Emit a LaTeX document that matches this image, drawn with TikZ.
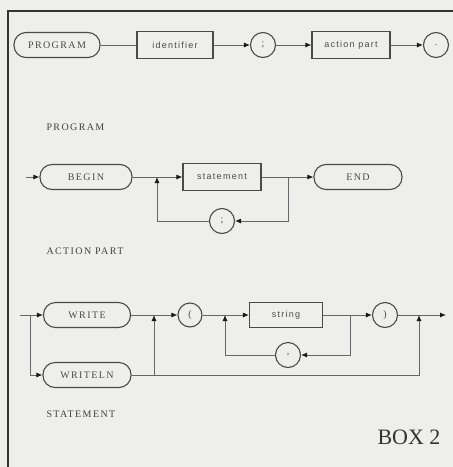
\documentclass[tikz,border=0pt]{standalone}
\usepackage{fontspec}
\setmainfont{Liberation Serif}
\newfontfamily\capsfont[LetterSpace=14]{Liberation Serif}
\newfontfamily\wordfont[LetterSpace=14]{Liberation Sans}
\usepackage{tikz}
\usetikzlibrary{positioning,arrows.meta}
\definecolor{paper}{HTML}{EEEEEC}
\definecolor{ink}{HTML}{4A4A4A}

\begin{document}
\begin{tikzpicture}[x=1pt, y=-1pt, >={Latex[length=6pt,width=5pt,color=black!90]},
    oval/.style={draw=ink, line width=1.1pt, rounded corners=12pt, minimum width=88pt,
                 minimum height=25pt, inner sep=0pt, text=ink,
                 font=\capsfont\fontsize{10}{11}\selectfont},
    box/.style={draw=ink, line width=1.1pt, minimum height=27pt, inner sep=0pt, text=ink,
                font=\wordfont\fontsize{9}{10}\selectfont},
    sym/.style={circle, draw=ink, line width=1.1pt, minimum size=25pt, inner sep=0pt,
                text=ink, font=\fontsize{10}{11}\selectfont},
    title/.style={anchor=west, text=black!75, font=\capsfont\fontsize{10}{11}\selectfont},
    flow/.style={draw=black!60, line width=0.9pt}]

    \fill[paper] (0,0) rectangle (453,467);
    \useasboundingbox (0,0) rectangle (453,467);
    \draw[line width=2.5pt, black!80] (8,467) -- (8,11) -- (453,11);

    % program
    \node[oval, minimum width=86pt] (prog) at (57,45) {PROGRAM};
    \node[box, minimum width=76pt]  (ident) at (175,45) {identifier};
    \node[sym] (semi) at (263,45) {;};
    \node[box, minimum width=78pt]  (act) at (351,45) {action part};
    \node[sym] (stop) at (436,45) {.};
    \draw[flow] (prog) -- (ident);
    \foreach \a/\b in {ident/semi, semi/act, act/stop} \draw[flow, ->] (\a) -- (\b);
    \node[title] (lprog) at (43,127) {PROGRAM};

    % action part
    \coordinate (ain) at (26,177);
    \coordinate (aback) at (157,177);
    \coordinate (afwd) at (288,177);
    \node[oval, minimum width=92pt] (begin) at (86,177) {BEGIN};
    \node[box, minimum width=78pt]  (stmt) at (222,177) {statement};
    \node[oval, minimum width=88pt] (fin) at (358,177) {END};
    \node[sym] (sep) at (222,221) {;};
    \foreach \a/\b in {ain/begin, begin/stmt, stmt/fin} \draw[flow, ->] (\a) -- (\b);
    \draw[flow, ->] (afwd) |- (sep);
    \draw[flow, ->] (sep) -| (aback);
    \node[title] (lact) at (43,251) {ACTION PART};

    % statement
    \coordinate (sin) at (20,315);
    \coordinate (split) at (30,315);
    \coordinate (ja) at (154,315);
    \coordinate (jalow) at (154,375);
    \coordinate (jb) at (225,315);
    \coordinate (jc) at (350,315);
    \coordinate (jd) at (419,315);
    \coordinate (sout) at (446,315);
    \node[oval, minimum width=87pt] (write) at (87,315) {WRITE};
    \node[oval, minimum width=88pt] (writeln) at (87,375) {WRITELN};
    \node[sym, minimum size=24pt] (lpar) at (190,315) {(};
    \node[box, minimum width=73pt, minimum height=25pt] (strg) at (286,315) {string};
    \node[sym] (rpar) at (385,315) {)};
    \node[sym] (comma) at (288,355) {,};
    \foreach \a/\b in {sin/write, write/lpar, lpar/strg, strg/rpar, rpar/sout}
      \draw[flow, ->] (\a) -- (\b);
    \draw[flow, ->] (split) |- (writeln);
    \draw[flow, ->] (writeln) -| (jd);
    \draw[flow, ->] (jalow) -- (ja);
    \draw[flow, ->] (jc) |- (comma);
    \draw[flow, ->] (comma) -| (jb);
    \node[title] (lstmt) at (43,414) {STATEMENT};

    \node[anchor=east, text=black!80, font=\fontsize{22}{24}\selectfont] (boxno) at (444,437) {BOX 2};
\end{tikzpicture}
\end{document}
